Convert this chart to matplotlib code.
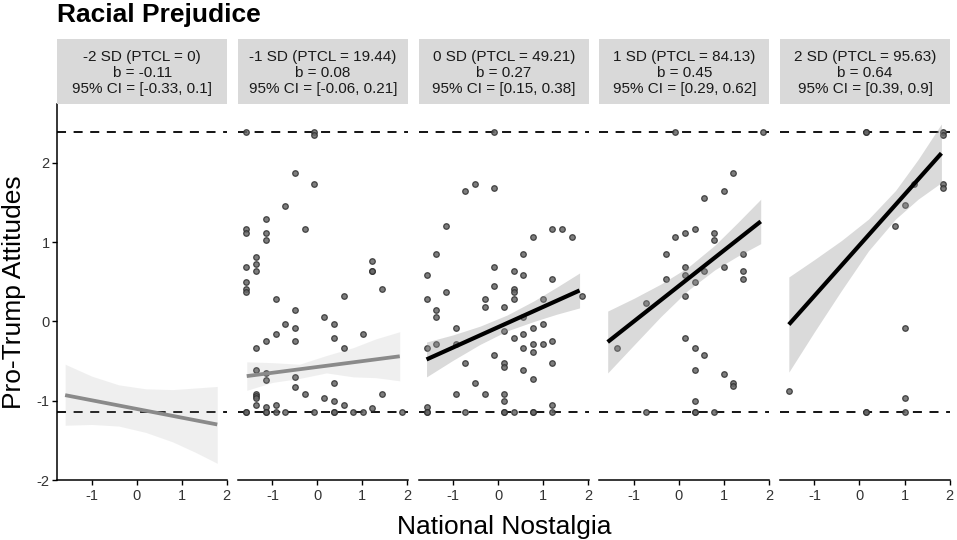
import matplotlib
matplotlib.use('Agg')
import matplotlib.pyplot as plt
import numpy as np

plt.rcParams['font.family'] = ['Liberation Sans', 'DejaVu Sans']
plt.rcParams['axes.unicode_minus'] = False

title = "Racial Prejudice"
x_label = "National Nostalgia"
y_label = "Pro-Trump Attitudes"
strip_labels = [
    "-2 SD (PTCL = 0)\nb = -0.11\n95% CI = [-0.33, 0.1]",
    "-1 SD (PTCL = 19.44)\nb = 0.08\n95% CI = [-0.06, 0.21]",
    "0 SD (PTCL = 49.21)\nb = 0.27\n95% CI = [0.15, 0.38]",
    "1 SD (PTCL = 84.13)\nb = 0.45\n95% CI = [0.29, 0.62]",
    "2 SD (PTCL = 95.63)\nb = 0.64\n95% CI = [0.39, 0.9]",
]
significant = [False, False, True, True, True]
ref_upper = 2.39
ref_lower = -1.14
x_ticks = [-1, 0, 1, 2]
y_ticks = [-2, -1, 0, 1, 2]

panel1_points = []
panel2_points = [
    (-1.58, 2.39), (-0.08, 2.39), (-0.08, 2.35), (-0.50, 1.87), (-0.08, 1.73),
    (-0.72, 1.46), (-1.15, 1.29), (-1.58, 1.16), (-1.58, 1.12), (-1.15, 1.11),
    (-0.28, 1.16), (-1.15, 1.03), (-1.36, 0.81), (-1.36, 0.72), (-1.58, 0.68),
    (-1.36, 0.63), (1.22, 0.76), (1.22, 0.63), (1.22, 0.63), (-1.58, 0.50),
    (-1.58, 0.41), (-1.58, 0.37), (1.44, 0.41), (0.58, 0.32), (-0.93, 0.28),
    (-0.50, 0.14), (0.15, 0.06), (-0.72, -0.03), (-0.50, -0.08), (0.37, -0.03),
    (-0.93, -0.16), (0.37, -0.21), (1.01, -0.16), (-1.15, -0.25), (-0.50, -0.25),
    (-1.36, -0.34), (0.58, -0.34), (-1.36, -0.61), (-1.15, -0.65), (-1.15, -0.74),
    (-0.50, -0.70), (-0.50, -0.83), (0.37, -0.78), (-0.28, -0.92), (1.44, -0.92),
    (0.15, -0.96), (0.37, -1.00), (0.58, -1.05), (-1.36, -0.91), (-1.36, -0.94),
    (-1.36, -0.97), (-1.36, -1.05), (-1.15, -1.08), (-0.93, -1.05), (1.22, -1.09),
    (-1.58, -1.14), (-1.58, -1.14), (-1.15, -1.14), (-1.15, -1.14), (-0.93, -1.14),
    (-0.72, -1.14), (-0.08, -1.14), (0.37, -1.14), (0.37, -1.14), (0.78, -1.14),
    (1.01, -1.14), (1.87, -1.14),
]
panel3_points = [
    (-0.08, 2.39), (-0.51, 1.73), (-0.73, 1.64), (-0.08, 1.68), (-1.16, 1.20),
    (1.20, 1.17), (1.42, 1.16), (0.78, 1.07), (1.64, 1.07), (-1.37, 0.85),
    (0.56, 0.85), (-0.08, 0.68), (0.35, 0.63), (0.56, 0.58), (-1.59, 0.58),
    (1.20, 0.54), (-0.08, 0.45), (0.35, 0.41), (0.35, 0.37), (-1.16, 0.37),
    (-1.59, 0.28), (-0.30, 0.28), (0.35, 0.28), (0.99, 0.28), (-0.30, 0.18),
    (0.13, 0.18), (-1.37, 0.14), (-1.37, 0.06), (0.56, 0.05), (1.86, 0.32),
    (-0.94, -0.08), (0.13, -0.12), (0.78, -0.08), (0.99, -0.03), (0.56, -0.16),
    (0.35, -0.21), (1.20, -0.25), (-1.37, -0.29), (-0.94, -0.29), (0.78, -0.29),
    (0.99, -0.29), (-1.59, -0.34), (0.56, -0.34), (0.78, -0.38), (-0.08, -0.43),
    (-0.73, -0.52), (0.13, -0.52), (0.13, -0.57), (1.20, -0.52), (0.56, -0.61),
    (0.78, -0.73), (-0.51, -0.78), (-0.94, -0.92), (-0.30, -0.92), (0.13, -0.92),
    (0.13, -1.01), (1.20, -1.05), (-1.59, -1.08),
    (-1.59, -1.14), (-1.59, -1.14), (-0.73, -1.14), (0.13, -1.14), (0.13, -1.14),
    (0.35, -1.14), (0.78, -1.14), (0.78, -1.14), (1.20, -1.14),
]
panel4_points = [
    (-0.08, 2.39), (1.86, 2.39), (1.21, 1.87), (1.00, 1.64), (0.57, 1.55),
    (0.35, 1.16), (0.14, 1.11), (-0.08, 1.07), (0.78, 1.11), (0.78, 1.03),
    (-0.29, 0.85), (1.43, 0.85), (0.14, 0.68), (0.57, 0.63), (1.00, 0.68),
    (0.14, 0.58), (-0.29, 0.54), (1.43, 0.63), (1.43, 0.54), (0.35, 0.50),
    (0.14, 0.32), (-0.72, 0.23), (-1.37, -0.34), (0.14, -0.21), (0.35, -0.34),
    (0.57, -0.43), (0.35, -0.61), (1.00, -0.66), (1.21, -0.78), (1.21, -0.82),
    (0.35, -1.01), (-0.72, -1.14), (0.35, -1.14), (0.35, -1.14), (0.78, -1.14),
]
panel5_points = [
    (0.14, 2.39), (0.14, 2.39), (1.86, 2.39), (1.86, 2.35), (1.22, 1.73),
    (1.86, 1.73), (1.86, 1.68), (1.00, 1.47), (0.79, 1.20), (1.00, -0.08),
    (-1.57, -0.88), (1.00, -0.96), (0.14, -1.14), (0.14, -1.14), (1.00, -1.14),
]
all_points = [panel1_points, panel2_points, panel3_points, panel4_points, panel5_points]

# fitted lines (read endpoints)
line_x = [[-1.59, 1.79], [-1.57, 1.83], [-1.59, 1.81], [-1.58, 1.82], [-1.57, 1.82]]
line_y = [[-0.93, -1.30], [-0.69, -0.44], [-0.48, 0.39], [-0.26, 1.26], [-0.04, 2.12]]

# confidence bands (read at several x positions)
band_x = [
    [-1.59, -1.0, -0.4, 0.2, 0.8, 1.3, 1.79],
    [-1.57, -1.0, -0.4, 0.2, 0.8, 1.3, 1.83],
    [-1.59, -1.0, -0.4, 0.2, 0.8, 1.3, 1.81],
    [-1.58, -1.0, -0.4, 0.2, 0.8, 1.3, 1.82],
    [-1.57, -1.0, -0.4, 0.2, 0.8, 1.3, 1.82],
]
band_lo = [
    [-1.31, -1.30, -1.32, -1.40, -1.52, -1.65, -1.79],
    [-0.87, -0.77, -0.72, -0.65, -0.70, -0.71, -0.75],
    [-0.70, -0.49, -0.29, -0.12, 0.00, 0.09, 0.17],
    [-0.65, -0.30, 0.06, 0.39, 0.65, 0.82, 0.98],
    [-0.64, -0.13, 0.39, 0.89, 1.29, 1.54, 1.75],
]
band_hi = [
    [-0.54, -0.69, -0.80, -0.85, -0.86, -0.84, -0.82],
    [-0.51, -0.52, -0.54, -0.43, -0.33, -0.22, -0.13],
    [-0.26, -0.17, -0.06, 0.08, 0.26, 0.43, 0.61],
    [0.13, 0.29, 0.47, 0.68, 0.96, 1.24, 1.54],
    [0.56, 0.78, 1.02, 1.29, 1.65, 2.04, 2.49],
]

W, H = 957, 540
fig = plt.figure(figsize=(W / 100, H / 100), dpi=100)

panel_left0 = 57.3
panel_step = 180.7
panel_w = 170.0
panel_bottom = 480.0
panel_top = 104.0
strip_top = 39.3

for i in range(5):
    left = panel_left0 + panel_step * i
    ax = fig.add_axes([left / W, (H - panel_bottom) / H, panel_w / W,
                       (panel_bottom - panel_top) / H])
    ax.set_xlim(-1.764, 2.013)
    ax.set_ylim(-2.0, 2.741)

    ax.axhline(ref_upper, color='black', lw=1.3, ls=(0, (5.0, 4.2)), zorder=1)
    ax.axhline(ref_lower, color='black', lw=1.3, ls=(0, (5.0, 4.2)), zorder=1)

    pts = np.array(all_points[i]).reshape(-1, 2)
    if len(pts):
        ax.scatter(pts[:, 0], pts[:, 1], s=16, facecolor='#666666',
                   edgecolor='#2e2e2e', linewidths=0.9, alpha=0.85, zorder=2)

    sig = significant[i]
    ax.fill_between(band_x[i], band_lo[i], band_hi[i], color='#999999',
                    alpha=0.36 if sig else 0.15, linewidth=0, zorder=3)
    ax.plot(line_x[i], line_y[i], color='black' if sig else '#8a8a8a',
            lw=3.0 if sig else 2.7, solid_capstyle='butt', zorder=4)

    for s in ['top', 'right']:
        ax.spines[s].set_visible(False)
    ax.spines['bottom'].set_linewidth(1.1)
    ax.spines['left'].set_linewidth(1.1)
    ax.set_xticks(x_ticks)
    ax.set_xticklabels([str(t) for t in x_ticks])
    ax.tick_params(axis='x', length=3.6, width=1.0, labelsize=10.5,
                   labelcolor='#333333', pad=3.0)
    if i == 0:
        ax.set_yticks(y_ticks)
        ax.set_yticklabels([str(t) for t in y_ticks])
        ax.tick_params(axis='y', length=3.6, width=1.0, labelsize=10.5,
                       labelcolor='#333333', pad=2.0)
    else:
        ax.spines['left'].set_visible(False)
        ax.set_yticks([])

    sax = fig.add_axes([left / W, (H - panel_top) / H, panel_w / W,
                        (panel_top - strip_top) / H])
    sax.set_facecolor('#d9d9d9')
    for s in sax.spines.values():
        s.set_visible(False)
    sax.set_xticks([])
    sax.set_yticks([])
    sax.text(0.5, 0.48, strip_labels[i], ha='center', va='center',
             fontsize=11, color='#1a1a1a', linespacing=1.15,
             transform=sax.transAxes)

fig.text(57 / W, (H - 21.7) / H, title, fontsize=19, fontweight='bold',
         ha='left', va='baseline')
fig.text(504 / W, (H - 534) / H, x_label, fontsize=19, ha='center',
         va='baseline')
fig.text(2 / W, (H - 292) / H, y_label, fontsize=19, ha='left',
         va='center', rotation=90)

fig.savefig('out.png', dpi=100)
